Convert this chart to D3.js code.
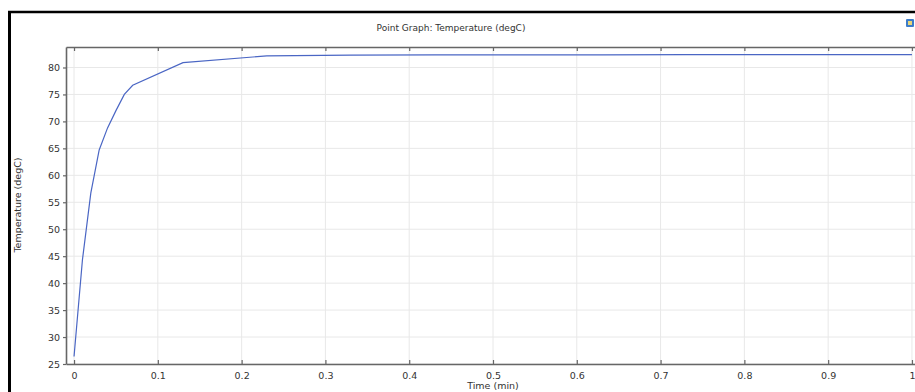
<!DOCTYPE html>
<html>
<head>
<meta charset="utf-8">
<script src="https://cdn.jsdelivr.net/npm/d3@7"></script>
<style>
  html, body { margin: 0; padding: 0; background: #fff; }
  svg { display: block; font-family: "DejaVu Sans", sans-serif; }
</style>
</head>
<body>
<svg id="chart" width="915" height="392"></svg>
<script>
// ---- data ----
const timeMin = [0, 0.01, 0.02, 0.03, 0.04, 0.05, 0.06, 0.07, 0.13, 0.23, 0.33, 0.43, 0.53, 0.63, 0.73, 0.83, 0.93, 1.0];
const tempDegC = [26.4, 44.3, 56.7, 64.7, 68.8, 72.0, 75.0, 76.7, 80.9, 82.15, 82.3, 82.35, 82.35, 82.35, 82.4, 82.4, 82.4, 82.4];
const xTicks = [0, 0.1, 0.2, 0.3, 0.4, 0.5, 0.6, 0.7, 0.8, 0.9, 1];
const xTickLabels = ["0", "0.1", "0.2", "0.3", "0.4", "0.5", "0.6", "0.7", "0.8", "0.9", "1"];
const yTicks = [25, 30, 35, 40, 45, 50, 55, 60, 65, 70, 75, 80];
const titleText = "Point Graph: Temperature (degC)";
const xLabel = "Time (min)";
const yLabel = "Temperature (degC)";

// ---- layout ----
const svg = d3.select("#chart");
const plot = { left: 66, right: 920, top: 47, bottom: 364 };

const x = d3.scaleLinear().domain([-0.0096, 1.0096]).range([plot.left, plot.right]);
const y = d3.scaleLinear().domain([25, 83.8]).range([plot.bottom, plot.top]);

// outer frame (black, left and top)
svg.append("line").attr("x1", 9.5).attr("x2", 9.5).attr("y1", 11).attr("y2", 392)
  .attr("stroke", "#000").attr("stroke-width", 3);
svg.append("line").attr("x1", 8).attr("x2", 915).attr("y1", 12).attr("y2", 12)
  .attr("stroke", "#000").attr("stroke-width", 2.5);

// title
svg.append("text").attr("x", 451).attr("y", 31).attr("text-anchor", "middle")
  .attr("font-size", 9).attr("fill", "#333").text(titleText);

// small icon top-right
const icon = svg.append("g").attr("transform", "translate(906,19)");
icon.append("rect").attr("width", 8).attr("height", 8).attr("rx", 1).attr("fill", "#3d7cc9");
icon.append("rect").attr("x", 2).attr("y", 2).attr("width", 4).attr("height", 4).attr("fill", "#e8d67a");

// grid
const grid = svg.append("g");
grid.selectAll(".gx").data(xTicks).enter().append("line")
  .attr("x1", d => x(d)).attr("x2", d => x(d)).attr("y1", plot.top).attr("y2", plot.bottom)
  .attr("stroke", "#e8e8e8").attr("stroke-width", 1);
grid.selectAll(".gy").data(yTicks).enter().append("line")
  .attr("x1", plot.left).attr("x2", plot.right).attr("y1", d => y(d)).attr("y2", d => y(d))
  .attr("stroke", "#e8e8e8").attr("stroke-width", 1);

// curve
const line = d3.line().x((d, i) => x(timeMin[i])).y(d => y(d));
svg.append("path").datum(tempDegC).attr("d", line)
  .attr("fill", "none").attr("stroke", "#4a66c4").attr("stroke-width", 1.2);

// axes
const axisColor = "#666";
const xb = svg.append("g").attr("transform", `translate(0,${plot.bottom})`)
  .call(d3.axisBottom(x).tickValues(xTicks).tickFormat((d, i) => xTickLabels[i]).tickSizeInner(-4).tickSizeOuter(0).tickPadding(8));
const xt = svg.append("g").attr("transform", `translate(0,${plot.top})`)
  .call(d3.axisTop(x).tickValues(xTicks).tickFormat("").tickSizeInner(-4).tickSizeOuter(0));
const yl = svg.append("g").attr("transform", `translate(${plot.left},0)`)
  .call(d3.axisLeft(y).tickValues(yTicks).tickSizeInner(3).tickSizeOuter(0).tickPadding(3));

[xb, xt, yl].forEach(g => {
  g.select(".domain").attr("stroke", axisColor).attr("stroke-width", 1.6);
  g.selectAll(".tick line").attr("stroke", axisColor).attr("stroke-width", 1.2);
  g.selectAll(".tick text").attr("fill", "#333").attr("font-size", 9.5)
    .attr("font-family", "DejaVu Sans, sans-serif");
});

// axis labels
svg.append("text").attr("x", 493).attr("y", 389).attr("text-anchor", "middle")
  .attr("font-size", 9.5).attr("fill", "#333").text(xLabel);
svg.append("text").attr("transform", "translate(21,205) rotate(-90)").attr("text-anchor", "middle")
  .attr("font-size", 9.5).attr("fill", "#333").text(yLabel);
</script>
</body>
</html>
